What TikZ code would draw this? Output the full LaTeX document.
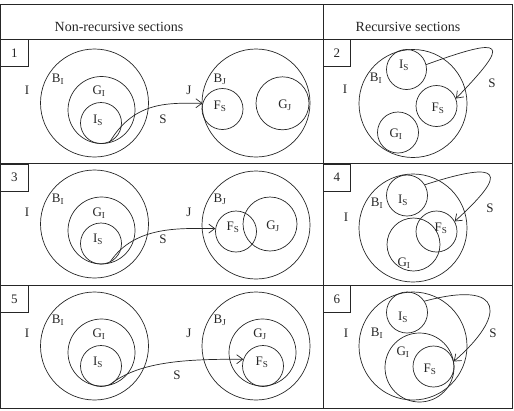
\documentclass[tikz,border=0pt]{standalone}
\usepackage{fontspec}
\setmainfont{Liberation Serif}
\usetikzlibrary{arrows.meta}

\begin{document}
\begin{tikzpicture}[x=1pt,y=-1pt,line width=0.7pt,color=black!85,
  circ/.style={draw,circle,inner sep=0pt},
  lbl/.style={inner sep=0pt,font=\fontsize{13}{15}\selectfont},
  hdr/.style={inner sep=0pt,font=\fontsize{14}{16}\selectfont},
  numbox/.style={draw,anchor=north west,minimum size=27pt,inner sep=0pt,font=\fontsize{13}{15}\selectfont},
  flow/.style={-{Straight Barb[length=6pt,width=9pt]}}]
	\useasboundingbox (0,0) rectangle (514,410);
	
	%TABLE
	\draw (0.5,4) rectangle (512,408);
	\draw (0.5,39.3) -- (512,39.3);
	\draw (0.5,163.5) -- (512,163.5);
	\draw (0.5,285) -- (512,285);
	\draw (323,4) -- (323,408);
	\node[hdr] (hnon) at (119,27) {Non-recursive sections};
	\node[hdr] (hrec) at (408,27) {Recursive sections};
	\node[numbox] (n1) at (0.5,39.3) {1};
	\node[numbox] (n2) at (323,39.3) {2};
	\node[numbox] (n3) at (0.5,163.5) {3};
	\node[numbox] (n4) at (323,163.5) {4};
	\node[numbox] (n5) at (0.5,285) {5};
	\node[numbox] (n6) at (323,285) {6};
	
	%PANEL 1
	\node[circ,minimum size=108pt] (BI1) at (94.5,103) {};
	\node[circ,minimum size=67pt] (GI1) at (101.5,110) {};
	\node[circ,minimum size=41pt] (IS1) at (101,123) {};
	\node[circ,minimum size=108pt] (BJ1) at (256,103) {};
	\node[circ,minimum size=41pt] (FS1) at (222.5,109) {};
	\node[circ,minimum size=53pt] (GJ1) at (282.5,103.3) {};
	\node[lbl] (tI1) at (27,90) {I};
	\node[lbl] (tBI1) at (58,79) {B\textsubscript{I}};
	\node[lbl] (tGI1) at (99,91) {G\textsubscript{I}};
	\node[lbl] (tIS1) at (98,120) {I\textsubscript{S}};
	\node[lbl] (tS1) at (163,119) {S};
	\node[lbl] (tJ1) at (189,90) {J};
	\node[lbl] (tBJ1) at (220,79) {B\textsubscript{J}};
	\node[lbl] (tFS1) at (220,106) {F\textsubscript{S}};
	\node[lbl] (tGJ1) at (285,105) {G\textsubscript{J}};
	\draw[flow] (IS1.-65) .. controls +(25,-42) and +(-32,0) .. (FS1.164);
	
	%PANEL 2
	\node[circ,minimum size=108pt] (BI2) at (413,103.5) {};
	\node[circ,minimum size=40pt] (IS2) at (406.5,69.5) {};
	\node[circ,minimum size=41pt] (FS2) at (436.5,106) {};
	\node[circ,minimum size=41pt] (GI2) at (398,132.5) {};
	\node[lbl] (tI2) at (345,89) {I};
	\node[lbl] (tBI2) at (376,78) {B\textsubscript{I}};
	\node[lbl] (tIS2) at (404,65) {I\textsubscript{S}};
	\node[lbl] (tFS2) at (438,108) {F\textsubscript{S}};
	\node[lbl] (tGI2) at (396,134) {G\textsubscript{I}};
	\node[lbl] (tS2) at (492,83) {S};
	\draw[flow] (IS2.14) .. controls +(80,-29) and +(55,-57) .. (FS2.21);
	
	%PANEL 3
	\node[circ,minimum size=108pt] (BI3) at (94.5,224) {};
	\node[circ,minimum size=67pt] (GI3) at (101.5,230.5) {};
	\node[circ,minimum size=41pt] (IS3) at (101,243.5) {};
	\node[circ,minimum size=108pt] (BJ3) at (256,225) {};
	\node[circ,minimum size=41pt] (FS3) at (236,231.5) {};
	\node[circ,minimum size=54pt] (GJ3) at (270,224) {};
	\node[lbl] (tI3) at (27,212) {I};
	\node[lbl] (tBI3) at (58,199) {B\textsubscript{I}};
	\node[lbl] (tGI3) at (99,213) {G\textsubscript{I}};
	\node[lbl] (tIS3) at (98,239) {I\textsubscript{S}};
	\node[lbl] (tS3) at (163,239) {S};
	\node[lbl] (tJ3) at (189,212) {J};
	\node[lbl] (tBJ3) at (220,199) {B\textsubscript{J}};
	\node[lbl] (tFS3) at (233,227) {F\textsubscript{S}};
	\node[lbl] (tGJ3) at (273,226) {G\textsubscript{J}};
	\draw[flow] (IS3.-65) .. controls +(25,-38) and +(-32,0) .. (FS3.172);
	
	%PANEL 4
	\node[circ,minimum size=108pt] (BI4) at (413,228) {};
	\node[circ,minimum size=41pt] (IS4) at (407,195.5) {};
	\node[circ,minimum size=41pt] (FS4) at (436.5,231.5) {};
	\node[circ,minimum size=53pt] (GI4) at (413.5,244.5) {};
	\node[lbl] (tI4) at (346,217) {I};
	\node[lbl] (tBI4) at (377,203) {B\textsubscript{I}};
	\node[lbl] (tIS4) at (403,200) {I\textsubscript{S}};
	\node[lbl] (tFS4) at (441,228) {F\textsubscript{S}};
	\node[lbl] (tGI4) at (404,263) {G\textsubscript{I}};
	\node[lbl] (tS4) at (490,208) {S};
	\draw[flow] (IS4.31) .. controls +(77,-25) and +(55,-50) .. (FS4.29);
	
	%PANEL 5
	\node[circ,minimum size=108pt] (BI5) at (94.5,346) {};
	\node[circ,minimum size=67pt] (GI5) at (101.5,352.5) {};
	\node[circ,minimum size=41pt] (IS5) at (101,366) {};
	\node[circ,minimum size=108pt] (BJ5) at (256,346) {};
	\node[circ,minimum size=67pt] (GJ5) at (262.5,352.5) {};
	\node[circ,minimum size=41pt] (FS5) at (263,366) {};
	\node[lbl] (tI5) at (27,333) {I};
	\node[lbl] (tBI5) at (58,320) {B\textsubscript{I}};
	\node[lbl] (tGI5) at (99,334) {G\textsubscript{I}};
	\node[lbl] (tIS5) at (98,362) {I\textsubscript{S}};
	\node[lbl] (tS5) at (177,375) {S};
	\node[lbl] (tJ5) at (189,333) {J};
	\node[lbl] (tBJ5) at (220,320) {B\textsubscript{J}};
	\node[lbl] (tGJ5) at (260,334) {G\textsubscript{J}};
	\node[lbl] (tFS5) at (262,362) {F\textsubscript{S}};
	\draw[flow] (IS5.-65) .. controls +(30,-25) and +(-50,0) .. (FS5.161);
	
	%PANEL 6
	\node[circ,minimum size=108pt] (BI6) at (413,346) {};
	\node[circ,minimum size=41pt] (IS6) at (407,312.5) {};
	\node[circ,minimum size=69pt] (GI6) at (419.5,367.5) {};
	\node[circ,minimum size=41pt] (FS6) at (433.5,366.5) {};
	\node[lbl] (tI6) at (346,333) {I};
	\node[lbl] (tBI6) at (377,333) {B\textsubscript{I}};
	\node[lbl] (tIS6) at (403,317) {I\textsubscript{S}};
	\node[lbl] (tGI6) at (403,352) {G\textsubscript{I}};
	\node[lbl] (tFS6) at (430,369) {F\textsubscript{S}};
	\node[lbl] (tS6) at (493,333) {S};
	\draw[flow] (IS6.33) .. controls +(82,-22) and +(52,-45) .. (FS6.14);
	
\end{tikzpicture}
\end{document}
